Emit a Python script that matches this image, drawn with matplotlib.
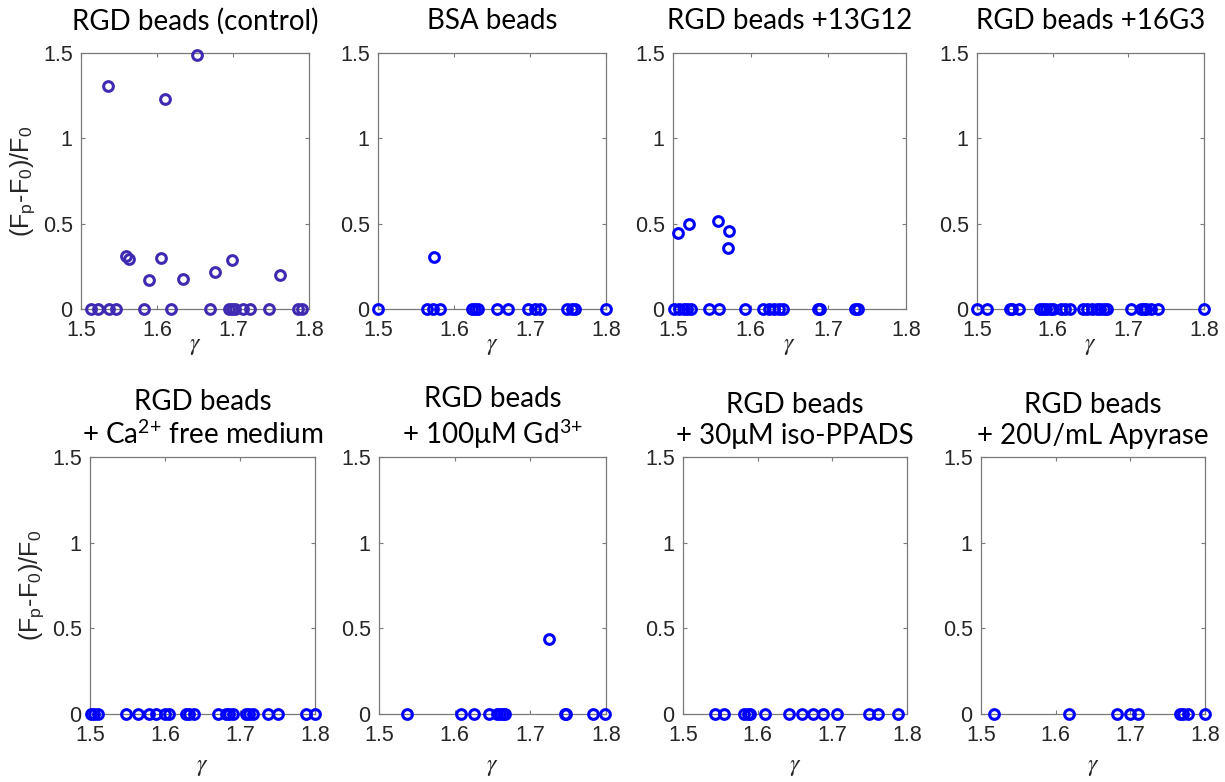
import numpy as np
import matplotlib
matplotlib.use('Agg')
import matplotlib.pyplot as plt

plt.rcParams['mathtext.fontset'] = 'stix'

# ---- data ----
titles = ['RGD beads (control)', 'BSA beads', 'RGD beads +13G12', 'RGD beads +16G3',
          'RGD beads\n+ Ca$^{\\mathregular{2{+}}}$ free medium',
          'RGD beads\n+ 100\u03bcM Gd$^{\\mathregular{3{+}}}$',
          'RGD beads\n+ 30\u03bcM iso-PPADS',
          'RGD beads\n+ 20U/mL Apyrase']

ctrl_x = [1.5355, 1.6105, 1.652, 1.559, 1.5627, 1.6057, 1.590, 1.6338, 1.6763, 1.699, 1.762,
          1.5127, 1.5224, 1.5368, 1.5465, 1.5825, 1.6189, 1.6697, 1.6947, 1.6991, 1.7031,
          1.7127, 1.7219, 1.7478, 1.7851, 1.7912]
ctrl_y = [1.305, 1.232, 1.488, 0.309, 0.293, 0.301, 0.168, 0.174, 0.215, 0.287, 0.201,
          0, 0, 0, 0, 0, 0, 0, 0, 0, 0, 0, 0, 0, 0, 0]

bsa_x = [1.5737, 1.5004, 1.564, 1.5728, 1.5816, 1.6232, 1.6276, 1.632, 1.657, 1.6706,
         1.6978, 1.7066, 1.7132, 1.7482, 1.7548, 1.7592, 1.7996]
bsa_y = [0.306, 0, 0, 0, 0, 0, 0, 0, 0, 0, 0, 0, 0, 0, 0, 0, 0]

g13_x = [1.5069, 1.5207, 1.5578, 1.5716, 1.5711,
         1.5013, 1.5078, 1.5142, 1.5185, 1.5228, 1.5466, 1.5595, 1.5931, 1.6164, 1.6241,
         1.6306, 1.6371, 1.6422, 1.6866, 1.6897, 1.7341, 1.7384]
g13_y = [0.445, 0.496, 0.514, 0.457, 0.357,
         0, 0, 0, 0, 0, 0, 0, 0, 0, 0, 0, 0, 0, 0, 0, 0, 0]

g16_x = [1.5, 1.5134, 1.5433, 1.5469, 1.5549, 1.5826, 1.587, 1.5906, 1.596, 1.6004, 1.6116,
         1.6161, 1.6228, 1.6406, 1.6451, 1.6518, 1.6585, 1.6629, 1.6674, 1.6719, 1.7031,
         1.7165, 1.7201, 1.7232, 1.7299, 1.7388, 1.8]
g16_y = [0] * len(g16_x)

ca_x = [1.5009, 1.5053, 1.5107, 1.5476, 1.5641, 1.5788, 1.5877, 1.5997, 1.6055, 1.6277,
        1.6322, 1.6389, 1.67, 1.6811, 1.6856, 1.69, 1.7078, 1.7123, 1.7167, 1.7368, 1.7501,
        1.7879, 1.8]
ca_y = [0] * len(ca_x)

gd_x = [1.7251, 1.5372, 1.6086, 1.6258, 1.6449, 1.656, 1.6604, 1.6639, 1.667, 1.7455,
        1.7477, 1.7831, 1.7986]
gd_y = [0.44, 0, 0, 0, 0, 0, 0, 0, 0, 0, 0, 0, 0]

ppads_x = [1.5433, 1.5554, 1.5821, 1.5866, 1.5902, 1.6103, 1.6415, 1.6594, 1.6741, 1.6875,
           1.7063, 1.7487, 1.7607, 1.7875]
ppads_y = [0] * len(ppads_x)

apy_x = [1.5169, 1.6173, 1.6819, 1.6997, 1.7109, 1.7666, 1.7711, 1.7778, 1.8]
apy_y = [0] * len(apy_x)

xs = [ctrl_x, bsa_x, g13_x, g16_x, ca_x, gd_x, ppads_x, apy_x]
ys = [ctrl_y, bsa_y, g13_y, g16_y, ca_y, gd_y, ppads_y, apy_y]
colors = ['#3F2AB2'] + ['#0000FF'] * 7

# axes boxes in pixels (left, right, top, bottom)
W, H = 1225, 782
boxes = [(81, 309, 53, 309), (378, 606, 53, 309), (673, 906, 53, 309), (977, 1204, 53, 309),
         (90, 315, 457, 714), (379, 606, 457, 714), (683, 907, 457, 714), (981, 1205, 457, 714)]

fig = plt.figure(figsize=(W / 100, H / 100), dpi=100)
axc = '#7a7a7a'
txt = '#262626'

for i in range(8):
    l, r, t, b = boxes[i]
    ax = fig.add_axes([l / W, 1 - b / H, (r - l) / W, (b - t) / H])
    ax.plot(xs[i], ys[i], 'o', mfc='none', mec=colors[i], ms=7, mew=2.2, clip_on=False, zorder=3)
    ax.set_xlim(1.5, 1.8)
    ax.set_ylim(0, 1.5)
    ax.set_xticks([1.5, 1.6, 1.7, 1.8])
    ax.set_xticklabels(['1.5', '1.6', '1.7', '1.8'])
    ax.set_yticks([0, 0.5, 1, 1.5])
    ax.set_yticklabels(['0', '0.5', '1', '1.5'])
    ax.tick_params(direction='in', length=3, width=0.8, color=axc, labelcolor=txt,
                   top=True, right=True, labelsize=15.5)
    ax.tick_params(axis='x', pad=8)
    ax.tick_params(axis='y', pad=6)
    for lab in ax.get_xticklabels() + ax.get_yticklabels():
        lab.set_family('Liberation Sans')
    for sp in ax.spines.values():
        sp.set_color(axc)
        sp.set_linewidth(0.9)
    ax.set_title(titles[i], family='Lato', fontsize=20, color='black',
                 pad=17 if i < 4 else 9, linespacing=1.25)
    ax.set_xlabel('$\\gamma$', fontsize=17, color=txt, labelpad=-6 if i < 4 else 6)
    if i % 4 == 0:
        ax.set_ylabel('(F$_{\\mathregular{p}}$-F$_{\\mathregular{0}}$)/F$_{\\mathregular{0}}$',
                      family='Liberation Sans', fontsize=18, color=txt, labelpad=4)

fig.savefig('out.png', dpi=100)
